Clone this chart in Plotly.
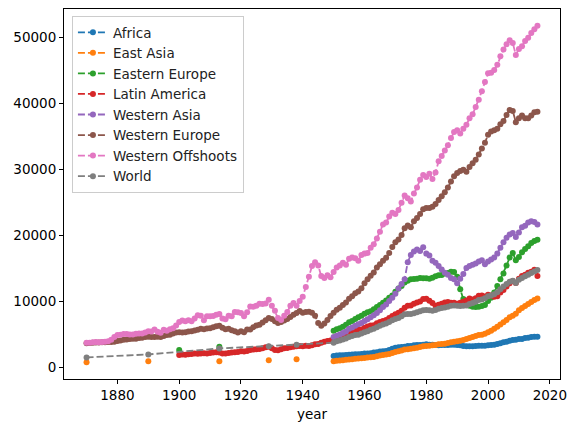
import plotly.graph_objects as go

# ---------------- data (GDP per capita by region) ----------------
years_full = list(range(1870, 2017))
years_latin = list(range(1900, 2017))
years_modern = list(range(1950, 2017))

western_offshoots = [
    3680, 3700, 3760, 3800, 3780, 3800, 3830, 3900, 4150, 4550,
    4850, 4900, 5000, 5000, 4950, 4950, 5050, 5100, 5100, 5250,
    5450, 5400, 5700, 5350, 5200, 5650, 5500, 5750, 5900, 6300,
    6850, 7050, 6950, 7100, 6950, 7350, 7850, 7800, 7100, 7700,
    7700, 7750, 7950, 8050, 7350, 7250, 7800, 7700, 8350, 8300,
    8200, 7700, 8300, 9200, 9150, 9300, 9600, 9550, 9650, 10200,
    9300, 8550, 7450, 7150, 7800, 8350, 9300, 9700, 9300, 10000,
    10650, 12150, 13700, 15300, 15900, 15400, 13800, 13500, 13900, 13600,
    14400, 15100, 15400, 15800, 15500, 16400, 16600, 16500, 16100, 17000,
    17200, 17300, 18100, 18600, 19500, 20500, 21600, 21900, 22800, 23400,
    23200, 23800, 24900, 26000, 25600, 25100, 26300, 27200, 28400, 29100,
    28800, 29300, 28500, 29500, 31200, 32000, 32800, 33600, 34700, 35600,
    35900, 35400, 36100, 36700, 37700, 38300, 39400, 40500, 41800, 43200,
    44500, 44600, 45000, 45800, 47100, 48100, 48900, 49500, 49100, 47300,
    48200, 48600, 49400, 49900, 50600, 51200, 51700,
]

western_europe = [
    3620, 3640, 3700, 3740, 3740, 3760, 3780, 3820, 3800, 3830,
    3950, 4050, 4150, 4200, 4250, 4300, 4300, 4400, 4450, 4550,
    4600, 4550, 4550, 4600, 4550, 4700, 4850, 4900, 5100, 5250,
    5300, 5250, 5300, 5400, 5450, 5550, 5650, 5800, 5750, 5850,
    5900, 6050, 6200, 6250, 5950, 5750, 5800, 5600, 5450, 5250,
    5450, 5300, 5700, 5700, 6050, 6300, 6400, 6750, 7100, 7450,
    7300, 6950, 6700, 6850, 7050, 7300, 7600, 7950, 8200, 8500,
    8250, 8350, 8400, 8250, 7800, 6700, 6250, 6600, 7150, 7750,
    8250, 8700, 9000, 9400, 9800, 10350, 10750, 11200, 11450, 11950,
    12700, 13300, 13850, 14350, 15100, 15600, 16100, 16550, 17300, 18200,
    18900, 19350, 20000, 21050, 21450, 21200, 22100, 22600, 23200, 23900,
    24100, 24100, 24300, 24700, 25300, 25900, 26500, 27200, 28100, 28900,
    29400, 29700, 29900, 29600, 30300, 30900, 31400, 32200, 33100, 34000,
    35200, 35700, 35900, 36100, 36800, 37300, 38200, 38950, 38800, 37100,
    37700, 38100, 37700, 37700, 38100, 38600, 38700,
]

latin_america = [
    1850, 1900, 1880, 1950, 1980, 2050, 2020, 2050, 2100, 2080,
    2150, 2200, 2250, 2200, 2050, 2050, 2150, 2200, 2250, 2300,
    2400, 2350, 2450, 2600, 2650, 2700, 2750, 2850, 3000, 3100,
    2850, 2600, 2550, 2700, 2850, 2900, 3000, 3100, 3150, 3200,
    3150, 3250, 3200, 3300, 3450, 3500, 3700, 3850, 3950, 4050,
    4300, 4450, 4550, 4650, 4900, 5100, 5250, 5500, 5650, 5700,
    5950, 6150, 6300, 6350, 6650, 6850, 7000, 7150, 7450, 7750,
    8000, 8250, 8550, 9000, 9300, 9350, 9600, 9800, 9950, 10300,
    10350, 10050, 9700, 9300, 9450, 9600, 9800, 9850, 9750, 9750,
    9600, 9750, 9900, 10100, 10400, 10250, 10450, 10800, 10850, 10700,
    10950, 10850, 10650, 10750, 11300, 11700, 12200, 12700, 13050, 12750,
    13400, 13800, 14000, 14300, 14450, 14750, 13800,
]

world_early_years = [1870, 1890, 1913, 1929, 1938]
world_early = [1470, 1920, 2830, 3180, 3400]
world = [
    3700, 3900, 4050, 4200, 4350, 4550, 4700, 4850, 4900, 5100,
    5300, 5450, 5650, 5800, 6050, 6250, 6450, 6600, 6850, 7100,
    7300, 7450, 7700, 8000, 8050, 8050, 8150, 8300, 8450, 8600,
    8650, 8600, 8550, 8650, 8850, 8950, 9050, 9150, 9300, 9350,
    9300, 9250, 9280, 9350, 9550, 9700, 9900, 10150, 10250, 10450,
    10750, 10850, 11050, 11350, 11800, 12200, 12600, 12950, 13100, 12750,
    13250, 13500, 13750, 14000, 14250, 14500, 14700,
]

eastern_europe_early_years = [1900, 1913]
eastern_europe_early = [2580, 3080]
eastern_europe = [
    5500, 5750, 5900, 6100, 6400, 6800, 7000, 7300, 7550, 7800,
    8100, 8300, 8450, 8750, 9100, 9400, 9750, 10100, 10500, 10850,
    11400, 11900, 12300, 12800, 13100, 13300, 13350, 13400, 13500, 13450,
    13450, 13400, 13550, 13750, 13900, 13950, 14200, 14250, 14450, 14400,
    13700, 11800, 10300, 9700, 9300, 9150, 9100, 9150, 9250, 9400,
    10000, 10500, 11300, 12300, 13300, 14200, 15400, 16600, 17300, 16200,
    16700, 17400, 17900, 18300, 18800, 19100, 19300,
]

western_asia = [
    4550, 4750, 4950, 5150, 5400, 5800, 6000, 6250, 6500, 6700,
    7000, 7250, 7550, 7850, 8200, 8600, 9100, 9500, 10000, 10500,
    11100, 11900, 12600, 13300, 15900, 17000, 17500, 17800, 17600, 18150,
    17200, 16900, 16100, 15800, 15300, 14800, 14300, 14000, 13500, 13300,
    12700, 13400, 14100, 15000, 15300, 15500, 15700, 16000, 16200, 15600,
    16000, 16300, 16600, 17200, 18100, 18900, 19600, 20100, 20300, 19700,
    20400, 21200, 21400, 21900, 22100, 22000, 21600,
]

east_asia_early_years = [1870, 1890, 1913, 1929, 1938]
east_asia_early = [720, 880, 880, 1030, 1180]
east_asia = [
    900, 950, 1000, 1050, 1100, 1150, 1200, 1250, 1300, 1350,
    1400, 1450, 1500, 1550, 1650, 1750, 1850, 1900, 2000, 2150,
    2300, 2400, 2500, 2650, 2700, 2800, 2850, 2950, 3050, 3150,
    3200, 3250, 3300, 3350, 3450, 3500, 3550, 3650, 3750, 3850,
    3900, 4000, 4100, 4250, 4400, 4550, 4700, 4850, 4900, 5050,
    5300, 5500, 5800, 6100, 6450, 6800, 7150, 7550, 7800, 8100,
    8600, 8950, 9250, 9550, 9850, 10150, 10400,
]

africa = [
    1700, 1750, 1780, 1800, 1850, 1880, 1920, 1950, 1960, 2000,
    2050, 2050, 2100, 2200, 2250, 2350, 2400, 2450, 2600, 2800,
    2950, 3000, 3050, 3100, 3200, 3200, 3300, 3350, 3350, 3400,
    3450, 3400, 3400, 3350, 3300, 3350, 3350, 3350, 3400, 3400,
    3350, 3300, 3200, 3150, 3150, 3150, 3200, 3250, 3250, 3250,
    3300, 3350, 3400, 3500, 3600, 3750, 3850, 4000, 4100, 4150,
    4250, 4250, 4400, 4450, 4550, 4600, 4600,
]

x_ticks = [1880, 1900, 1920, 1940, 1960, 1980, 2000, 2020]
y_ticks = [0, 10000, 20000, 30000, 40000, 50000]

colors = ["#1f77b4", "#ff7f0e", "#2ca02c", "#d62728",
          "#9467bd", "#8c564b", "#e377c2", "#7f7f7f"]


def isolated(early_x, early_y, x, y):
    """early points shown unconnected (gaps between them), then continuous series"""
    xs, ys = [], []
    for a, b in zip(early_x, early_y):
        xs += [a, a + 1]
        ys += [b, None]
    return xs + list(x), ys + list(y)


series = [
    ("Africa", years_modern, africa),
    ("East Asia",) + isolated(east_asia_early_years, east_asia_early, years_modern, east_asia),
    ("Eastern Europe",) + isolated(eastern_europe_early_years, eastern_europe_early, years_modern, eastern_europe),
    ("Latin America", years_latin, latin_america),
    ("Western Asia", years_modern, western_asia),
    ("Western Europe", years_full, western_europe),
    ("Western Offshoots", years_full, western_offshoots),
    ("World", world_early_years + years_modern, world_early + world),
]

FONT = "DejaVu Sans"
FS = 13.5
fig = go.Figure()
for (name, xs, ys), c in zip(series, colors):
    fig.add_trace(go.Scatter(
        x=xs, y=ys, name=name, mode="lines+markers", legendgroup=name,
        line=dict(color=c, width=1.8, dash="7px,3px"),
        marker=dict(color=c, size=6),
        connectgaps=False,
    ))

axis_common = dict(
    showline=True, linecolor="black", linewidth=1, mirror=True,
    ticks="outside", ticklen=4, tickwidth=1, tickcolor="black",
    showgrid=False, zeroline=False,
    tickfont=dict(family=FONT, size=FS, color="black"),
)
fig.update_xaxes(range=[1862.7, 2023.3], tickvals=x_ticks,
                 title=dict(text="year", font=dict(family=FONT, size=FS, color="black"), standoff=7),
                 **axis_common)
fig.update_yaxes(range=[-1800, 54250], tickvals=y_ticks, tickformat="d", **axis_common)

# page has an 8px body margin: figure is sized/offset to land the plot area where the reference has it
fig.update_layout(
    width=569, height=424,
    margin=dict(l=56, r=17, t=1, b=53),
    paper_bgcolor="white", plot_bgcolor="white",
    font=dict(family=FONT, size=FS, color="black"),
    showlegend=True,
    legend=dict(x=0.016, y=0.981, xanchor="left", yanchor="top",
                bgcolor="rgba(255,255,255,0.8)", bordercolor="#cccccc", borderwidth=1,
                itemwidth=30,
                font=dict(family=FONT, size=FS, color="#222"), tracegroupgap=0),
)

fig.write_html("out.html")
